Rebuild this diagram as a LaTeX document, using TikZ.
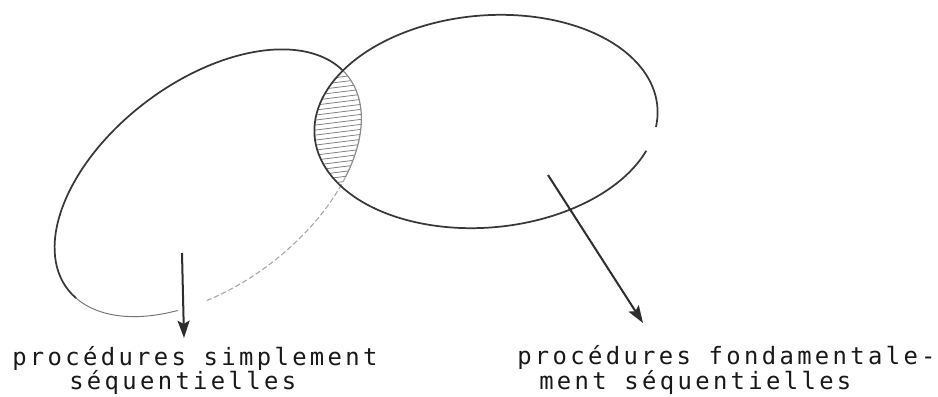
\documentclass[tikz,border=0pt]{standalone}
\usepackage{fontspec}
\newfontfamily\labelfont[LetterSpace=14]{DejaVu Sans Mono}
\usetikzlibrary{arrows.meta}
\begin{document}
\begin{tikzpicture}[x=0.75pt,y=-0.75pt,
  outline/.style={draw=black!78,line width=1.3pt},
  lensedge/.style={draw=black!45,line width=0.9pt},
  faint/.style={draw=black!35,line width=0.8pt,dash pattern=on 4pt off 2pt},
  thinedge/.style={draw=black!55,line width=0.7pt},
  hatch/.style={draw=black!50,line width=0.6pt},
  pointer/.style={draw=black!82,line width=1.5pt,-{Stealth[length=13pt,width=9pt,inset=2.5pt]}},
  label/.style={anchor=base west,inner sep=0pt,text=black!90,font=\labelfont\fontsize{17.9}{20}\selectfont}]
\useasboundingbox[fill=white] (0,0) rectangle (938,396);

% hatched intersection
\begin{scope}
  \clip[shift={(208,183)},rotate=37] (0,0) ellipse[x radius=176,y radius=102];
  \clip[shift={(486,121.5)},rotate=5] (0,0) ellipse[x radius=172,y radius=106];
  \foreach \yy in {62,67,...,200}
    \draw[hatch] (300,\yy+5) -- (380,\yy-5);
\end{scope}

% left set
\begin{scope}[shift={(208,183)},rotate=37]
  \draw[outline] (173:176 and 102) arc[start angle=173,end angle=355,x radius=176,y radius=102];
  \draw[lensedge] (355:176 and 102) arc[start angle=355,end angle=410,x radius=176,y radius=102];
  \draw[faint] (50:176 and 102) arc[start angle=50,end angle=114,x radius=176,y radius=102];
  \draw[thinedge] (125:176 and 102) arc[start angle=125,end angle=173,x radius=176,y radius=102];
\end{scope}

% right set
\begin{scope}[shift={(486,121.5)},rotate=5]
  \draw[outline] (24:172 and 106) arc[start angle=24,end angle=371,x radius=172,y radius=106];
\end{scope}

% labels
\node[label] (tA1) at (12,365) {procédures simplement};
\node[label] (tA2) at (69,389) {séquentielles};
\node[label] (tB1) at (517,364) {procédures fondamentale-};
\node[label] (tB2) at (539,389) {ment séquentielles};

% pointers
\coordinate (pa) at (182,253);
\coordinate (pb) at (184,338);
\coordinate (qa) at (548,175);
\coordinate (qb) at (643,323);
\draw[pointer] (pa) -- (pb);
\draw[pointer] (qa) -- (qb);
\end{tikzpicture}
\end{document}
